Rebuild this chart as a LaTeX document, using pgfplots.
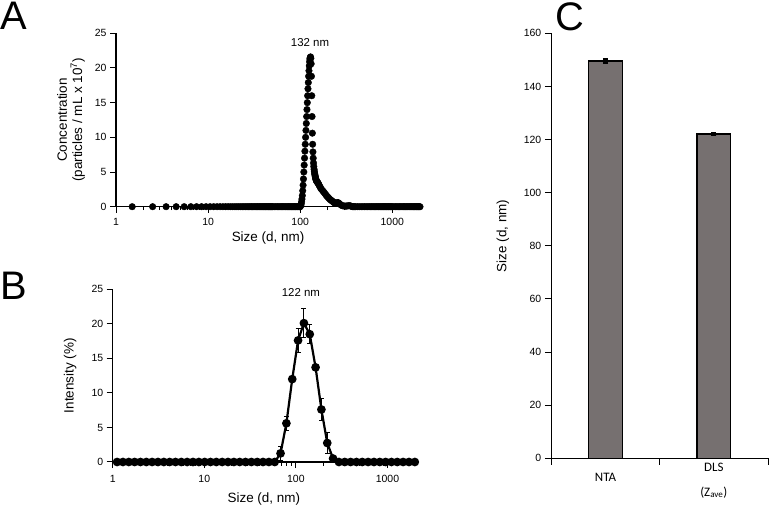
\documentclass[border=0pt]{standalone}
\usepackage{fontspec}
\setmainfont{Liberation Sans}
\newfontfamily\catfont{Carlito}
\usepackage{pgfplots}
\pgfplotsset{compat=1.18}
\definecolor{barc}{RGB}{118,112,112}
\pgfplotsset{
  myaxis/.style={scale only axis, axis x line=bottom, axis y line=left,
    axis line style={-, line width=1.2bp}, tick style={black, line width=1bp},
    tick align=outside, major tick length=6bp, minor tick length=3.5bp,
    tick label style={font=\fontsize{10.5}{12}\selectfont},
    label style={font=\fontsize{13.5}{15.5}\selectfont},
    clip=false, /pgf/number format/assume math mode=true},
}
\begin{document}
\begin{tikzpicture}
\useasboundingbox (0bp,0bp) rectangle (769bp,506bp);
\node[anchor=base west, inner sep=0, font=\fontsize{40}{40}\selectfont] at (0bp,476bp) {A};
\node[anchor=base west, inner sep=0, font=\fontsize{40}{40}\selectfont] at (0bp,206bp) {B};
\node[anchor=base west, inner sep=0, font=\fontsize{40}{40}\selectfont] at (555bp,475bp) {C};
% Panel A
\begin{axis}[myaxis, at={(116bp,299.3bp)}, anchor=south west, width=304bp, height=173.4bp,
  xmode=log, xmin=1, xmax=2000, ymin=0, ymax=25,
  xtick={1,10,100,1000}, xticklabels={1,10,100,1000},
  minor xtick={2,3,4,5,6,7,8,9,20,30,40,50,60,70,80,90,200,300,400,500,600,700,800,900,2000},
  ytick={0,5,10,15,20,25},
  xticklabel style={yshift=-2bp},
  xlabel={Size (d, nm)}, xlabel style={at={(axis description cs:0.5,-0.18)}, anchor=center},
  ylabel={Concentration\\(particles / mL x 10\textsuperscript{7})},
  ylabel style={at={(axis description cs:-0.148,0.5)}, anchor=center, align=center}]
\addplot[only marks, mark=*, mark size=3.3bp, black] coordinates {
(1.5,0) (2.5,0) (3.5,0) (4.5,0) (5.5,0) (6.5,0) (7.5,0) (8.5,0) (9.5,0) (10.5,0)
(11.5,0) (12.5,0) (13.5,0) (14.5,0) (15.5,0) (16.5,0) (17.5,0) (18.5,0) (19.5,0) (20.5,0)
(21.5,0) (22.5,0) (23.5,0) (24.5,0) (25.5,0) (26.5,0) (27.5,0) (28.5,0) (29.5,0) (30.5,0)
(31.5,0) (32.5,0) (33.5,0) (34.5,0) (35.5,0) (36.5,0) (37.5,0) (38.5,0) (39.5,0) (40.5,0)
(41.5,0) (42.5,0) (43.5,0) (44.5,0) (45.5,0) (46.5,0) (47.5,0) (48.5,0) (49.5,0) (50.5,0)
(52.5,0) (54.5,0) (56.5,0) (58.5,0) (60.5,0) (62.5,0) (64.5,0) (66.5,0) (68.5,0) (70.5,0)
(72.5,0) (74.5,0) (76.5,0) (78.5,0) (80.5,0) (82.5,0) (84.5,0) (86.5,0) (88.5,0) (90.5,0)
(92.5,0) (94.5,0) (96.5,0) (98.5,0) (99.5,0)
(100.5,0.05) (101.5,0.2) (102.5,0.4) (103.5,0.7) (104.5,1.1) (105.5,1.6) (106.5,2.3) (107.5,3.1)
(108.5,4.0) (109.5,5.0) (110.5,6.0) (111.5,7.0) (112.5,8.0) (113.5,9.0) (114.5,10.0) (115.5,11.0)
(116.5,12.0) (117.5,13.0) (118.5,14.0) (119.5,15.0) (120.5,16.0) (121.5,17.0) (122.5,17.9) (123.5,18.8)
(124.5,19.6) (125.5,20.3) (126.5,20.9) (127.5,21.3) (128.5,21.5) (129.5,21.6) (130.5,21.4) (131.5,20.6)
(132.5,18.8) (133.5,16.0) (134.5,13.0) (135.5,10.6) (136.5,9.0) (137.5,7.9) (138.5,7.0) (139.5,6.3)
(140.5,5.8) (141.5,5.4) (142.5,5.1) (143.5,4.8) (144.5,4.6) (145.5,4.4) (146.5,4.2) (147.5,4.05)
(148.5,3.9) (149.5,3.8) (150.5,3.7) (152.5,3.6) (154.5,3.5) (156.5,3.4) (158.5,3.25) (160.5,3.1)
(163.5,2.9) (166.5,2.7) (170.5,2.5) (175.5,2.3) (180.5,2.1) (185.5,1.9) (190.5,1.7) (195.5,1.5)
(200.5,1.35) (205.5,1.2) (210.5,1.05) (215.5,0.95) (220.5,0.85) (225.5,0.75) (230.5,0.65) (235.5,0.55)
(240.5,0.5) (245.5,0.5) (250.5,0.55) (255.5,0.6) (260.5,0.55) (265.5,0.45) (270.5,0.35) (280.5,0.2)
(290.5,0.12) (300.5,0.1) (310.5,0.08) (320.5,0.1) (330.5,0.12) (340.5,0.15) (350.5,0.12) (360.5,0.05)
(370.5,0) (380.5,0) (390.5,0) (400.5,0) (420.5,0) (440.5,0) (460.5,0) (480.5,0) (500.5,0)
(520.5,0) (540.5,0) (560.5,0) (580.5,0) (600.5,0) (620.5,0) (640.5,0) (660.5,0) (680.5,0) (700.5,0)
(720.5,0) (740.5,0) (760.5,0) (780.5,0) (800.5,0) (820.5,0) (840.5,0) (860.5,0) (880.5,0) (900.5,0)
(920.5,0) (940.5,0) (960.5,0) (980.5,0) (1000.5,0) (1040.5,0) (1080.5,0) (1120.5,0) (1160.5,0) (1200.5,0)
(1240.5,0) (1280.5,0) (1320.5,0) (1360.5,0) (1400.5,0) (1440.5,0) (1480.5,0) (1520.5,0) (1560.5,0) (1600.5,0)
(1640.5,0) (1680.5,0) (1720.5,0) (1760.5,0) (1800.5,0) (1840.5,0) (1880.5,0) (1920.5,0) (1960.5,0) (1999.5,0)
};
\node[font=\fontsize{11.5}{13}\selectfont] at (axis cs:128,23.6) {132 nm};
\end{axis}
% Panel B
\begin{axis}[myaxis, at={(112.7bp,44bp)}, anchor=south west, width=302.3bp, height=172.7bp,
  xmode=log, xmin=1, xmax=2000, ymin=0, ymax=25,
  xtick={1,10,100,1000}, xticklabels={1,10,100,1000},
  minor xtick={2,3,4,5,6,7,8,9,20,30,40,50,60,70,80,90,200,300,400,500,600,700,800,900,2000},
  ytick={0,5,10,15,20,25},
  xticklabel style={yshift=-4bp},
  xlabel={Size (d, nm)}, xlabel style={at={(axis description cs:0.5,-0.214)}, anchor=center},
  ylabel={Intensity (\%)},
  ylabel style={at={(axis description cs:-0.141,0.5)}, anchor=center}]
\addplot[black, line width=2.2bp, mark=*, mark size=3.2bp,
  error bars/.cd, y dir=both, y explicit,
  error bar style={line width=1bp, black},
  error mark options={rotate=90, mark size=2.5bp, line width=1bp, black}]
coordinates {
(1.117,0) (1.294,0) (1.499,0) (1.736,0) (2.010,0) (2.328,0) (2.696,0) (3.122,0) (3.615,0)
(4.187,0) (4.849,0) (5.615,0) (6.503,0) (7.531,0) (8.721,0) (10.10,0) (11.70,0) (13.54,0)
(15.69,0) (18.17,0) (21.04,0) (24.36,0) (28.21,0) (32.67,0) (37.84,0) (43.82,0) (50.75,0)
(58.77,0)
(68.06,1.25) +- (0,1.0)
(78.82,5.6) +- (0,1.0)
(91.28,12.0) +- (0,0.3)
(105.7,17.6) +- (0,1.7)
(122.4,20.1) +- (0,2.1)
(141.8,18.5) +- (0,1.4)
(164.2,13.7) +- (0,0.4)
(190.1,7.6) +- (0,1.55)
(220.2,2.75) +- (0,1.45)
(255.0,0.5) +- (0,0.3)
(295.3,0) (342.0,0) (396.1,0) (458.7,0) (531.2,0) (615.1,0) (712.4,0) (825.0,0) (955.4,0)
(1106,0) (1281,0) (1484,0) (1718,0) (1990,0)
};
\node[font=\fontsize{11.5}{13}\selectfont] at (axis cs:113.5,24.5) {122 nm};
\end{axis}
% Panel C
\begin{axis}[myaxis, at={(551.3bp,47.7bp)}, anchor=south west, width=216.7bp, height=425bp,
  xmin=0.5, xmax=2.5, ymin=0, ymax=160,
  xtick={0.5,1.5,2.5}, xticklabels={}, major tick length=6.5bp,
  ytick={0,20,40,60,80,100,120,140,160},
  ylabel={Size (d, nm)},
  ylabel style={at={(axis description cs:-0.223,0.523)}, anchor=center}]
\addplot[ybar, bar width=33.7bp, fill=barc, draw=black, line width=1.2bp,
  error bars/.cd, y dir=both, y explicit,
  error bar style={line width=1.5bp, black},
  error mark options={rotate=90, mark size=2.5bp, line width=2bp, black}]
coordinates {(1,149.6) +- (0,0.6) (2,122.1) +- (0,0.4)};
\node[font=\catfont\fontsize{13}{15}\selectfont] at (axis cs:1,0) [yshift=-19bp] {NTA};
\node[font=\catfont\fontsize{13}{15}\selectfont] at (axis cs:2,0) [yshift=-9bp] {DLS};
\node[font=\catfont\fontsize{13}{15}\selectfont] at (axis cs:2,0) [yshift=-34bp] {(Z\textsubscript{ave})};
\end{axis}
\end{tikzpicture}
\end{document}
